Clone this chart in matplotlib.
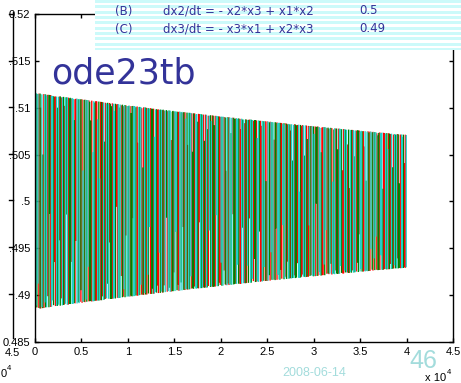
import numpy as np
import matplotlib
matplotlib.use("Agg")
import matplotlib.pyplot as plt
from matplotlib.patches import Rectangle

W, H, DPI = 461, 383, 100

# ---------------- data ----------------
x0 = [0.51, 0.50, 0.49]          # initial values of x1, x2, x3
t_end = 40000.0
series_colors = ['#ff0000', '#008000', '#1fd0c8']
xticks = [0, 5000, 10000, 15000, 20000, 25000, 30000, 35000, 40000, 45000]
xticklabels = ['0', '0.5', '1', '1.5', '2', '2.5', '3', '3.5', '4', '4.5']
yticks = [0.485, 0.49, 0.495, 0.5, 0.505, 0.51, 0.515, 0.52]
yticklabels = ['0.485', '.49', '.495', '.5', '.505', '.51', '.515', '0.52']
eq_labels = ['(B)', '(C)']
eq_texts = ['dx2/dt = - x2*x3 + x1*x2', 'dx3/dt = - x3*x1 + x2*x3']
eq_values = ['0.5', '0.49']
title_text = 'ode23tb'
date_text = '2008-06-14'
page_text = '46'

# ------------- solve the system shown (fixed-step RK4) -------------
h = 0.3348


def f(a, b, c):
    return a * (c - b), b * (a - c), c * (b - a)


n_steps = int(t_end / h)
a, b, c = x0
T, X1, X2, X3 = [0.0], [a], [b], [c]
t = 0.0
for i in range(1, n_steps + 1):
    k1 = f(a, b, c)
    k2 = f(a + 0.5 * h * k1[0], b + 0.5 * h * k1[1], c + 0.5 * h * k1[2])
    k3 = f(a + 0.5 * h * k2[0], b + 0.5 * h * k2[1], c + 0.5 * h * k2[2])
    k4 = f(a + h * k3[0], b + h * k3[1], c + h * k3[2])
    a += h / 6 * (k1[0] + 2 * k2[0] + 2 * k3[0] + k4[0])
    b += h / 6 * (k1[1] + 2 * k2[1] + 2 * k3[1] + k4[1])
    c += h / 6 * (k1[2] + 2 * k2[2] + 2 * k3[2] + k4[2])
    t += h
    T.append(t); X1.append(a); X2.append(b); X3.append(c)
T = np.array(T)
XS = [np.array(X1), np.array(X2), np.array(X3)]

# sparse output: short solver-output fragments starting at extrema
gaps = [29, 25, 33, 27, 35, 23, 31, 26, 34, 28, 22, 32, 30, 37, 24]     # extrema between fragments
frag_len = [11, 10, 11, 8, 11, 11, 9, 11, 7, 11, 10, 11, 11, 9, 11, 6, 11]  # steps per fragment
order = [0, 2, 1, 2, 0, 1, 0, 2, 1, 0, 2, 1, 2, 0, 1, 1, 0, 2, 2, 1, 0]    # component of each fragment

ext = []
for x in XS:
    d = np.diff(x)
    ext.append(np.where(np.sign(d[:-1]) != np.sign(d[1:]))[0] + 1)

frag_t = [[], [], []]
frag_y = [[], [], []]
j, n = 0, 0
while True:
    s = order[n % len(order)]
    if j >= len(ext[s]):
        break
    e = ext[s][j]
    q = frag_len[n % len(frag_len)]
    if e + q >= len(T):
        break
    frag_t[s].extend([T[e], T[e + q], np.nan])
    frag_y[s].extend([XS[s][e], XS[s][e + q], np.nan])
    j += gaps[n % len(gaps)]
    n += 1

# ---------------- figure ----------------
fig = plt.figure(figsize=(W / DPI, H / DPI), dpi=DPI)
fig.patch.set_facecolor('white')


def fx(px):
    return px / W


def fy(py):
    return 1 - py / H


L, R, Tp, B = 35, 453, 14, 342
ax = fig.add_axes([fx(L), fy(B), (R - L) / W, (B - Tp) / H])
for s, col in enumerate(series_colors):
    ax.plot(frag_t[s], frag_y[s], color=col, lw=0.95, solid_capstyle='butt')
ax.set_xlim(0, 45000)
ax.set_ylim(0.485, 0.52)
ax.set_xticks(xticks)
ax.set_xticklabels(xticklabels)
ax.set_yticks(yticks)
ax.set_yticklabels(yticklabels)
ax.tick_params(direction='in', length=3, width=1.0, top=True, right=True,
               labelsize=8, pad=3.5)
for lab in ax.get_xticklabels() + ax.get_yticklabels():
    lab.set_fontfamily('Liberation Sans')
for sp in ax.spines.values():
    sp.set_linewidth(1.0)

# overlay in pixel coordinates for slide decorations
ov = fig.add_axes([0, 0, 1, 1], zorder=10)
ov.set_xlim(0, W)
ov.set_ylim(H, 0)
ov.axis('off')
ov.patch.set_alpha(0)

# striped equation box
ov.add_patch(Rectangle((95, 0), W - 95, 50, facecolor='white', edgecolor='none'))
yy = 0.0
while yy < 50:
    ov.add_patch(Rectangle((95, yy), W - 95, min(3.0, 50 - yy), facecolor='#ccfafa',
                           edgecolor='none'))
    yy += 5.33
txt_col = '#333399'
for row, (lab, eq, val) in enumerate(zip(eq_labels, eq_texts, eq_values)):
    yc = 11 + row * 18
    ov.text(115, yc, lab, ha='left', va='center', color=txt_col, fontsize=8.5)
    ov.text(163, yc, eq, ha='left', va='center', color=txt_col, fontsize=8.5)
    ov.text(359, yc, val, ha='left', va='center', color=txt_col, fontsize=8.5)

ov.text(51, 84, title_text, ha='left', va='baseline', color=txt_col, fontsize=25)

# background figure remnants on the left
ov.plot([12.5, 12.5], [12, 338], color='black', lw=1.0)
for ypx in [14, 61, 107, 154, 200, 247, 294]:
    ov.plot([8.5, 12.5], [ypx, ypx], color='black', lw=1.0)
ov.text(12, 353, '4.5', ha='center', va='center', fontsize=8, family='Liberation Sans')
ov.text(6.5, 377, '0', ha='right', va='baseline', fontsize=8, family='Liberation Sans')
ov.text(7, 370, '4', ha='left', va='baseline', fontsize=5.5, family='Liberation Sans')

# exponent label of main axes
ov.text(446, 381, 'x 10', ha='right', va='baseline', fontsize=8, family='Liberation Sans')
ov.text(447, 374, '4', ha='left', va='baseline', fontsize=5.5, family='Liberation Sans')

# slide footer
foot = '#a3dcdc'
ov.text(314, 373, date_text, ha='center', va='center', color=foot, fontsize=9,
        family='Liberation Sans')
ov.text(423, 361, page_text, ha='center', va='center', color=foot, fontsize=18,
        family='Liberation Sans')

fig.savefig('out.png', dpi=DPI)
